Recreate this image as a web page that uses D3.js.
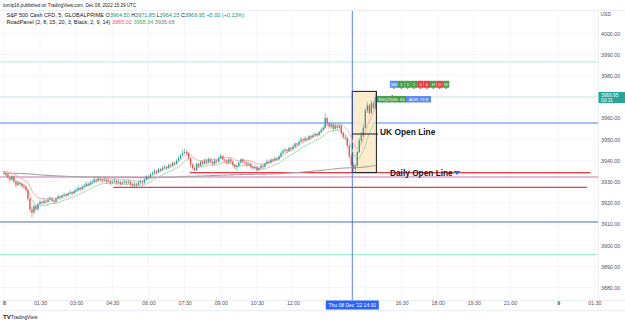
<!DOCTYPE html>
<html>
<head>
<meta charset="utf-8">
<title>S&amp;P 500 Cash CFD, 5</title>
<script src="https://cdn.jsdelivr.net/npm/d3@7"></script>
<style>
  body { margin: 0; background: #fff; }
  svg { display: block; font-family: "Liberation Sans", Arial, sans-serif; }
</style>
</head>
<body>
<div id="chart"></div>
<script>
// 5 minute bars, Dec 08 2022 from 00:00 UTC (bar i starts at minute 5*i)
var opens = [3934.5,3934,3933.5,3932,3931,3932.5,3930,3928.5,3929.5,3929,
  3928,3927.5,3926,3922,3917,3915.5,3918.5,3917,3919.5,3920.5,
  3920,3921,3920.5,3921.5,3922,3921,3920.5,3922,3923,3922.5,
  3923.5,3924,3923.5,3924.5,3925,3924.5,3925.5,3926,3927,3926.5,
  3927.5,3928,3929,3928.5,3929.5,3930,3931,3930.5,3931.5,3931,
  3930.5,3931,3930,3930.5,3929.5,3930,3930.5,3929.5,3930,3929,
  3929.5,3930,3929.5,3930,3929,3928.5,3929,3928.5,3929.5,3930,
  3929.5,3931,3932.5,3932,3933.5,3934,3935,3934.5,3936,3935.5,
  3936.5,3937,3936.5,3938,3937.5,3939,3938.5,3940,3941,3942.5,
  3943.5,3944,3943.5,3941,3938,3936.5,3935.5,3938.5,3937.5,3939.5,
  3938.5,3940,3939,3940.5,3939.5,3938.5,3940,3939.5,3941,3942,
  3940.5,3940,3939,3940.5,3939.5,3938,3937,3937.5,3939,3940.5,
  3939.5,3939,3938,3938.5,3937,3936.5,3937,3935.5,3936.5,3937.5,
  3937,3938.5,3939.5,3939,3940.5,3940,3941,3940.5,3942,3943.5,
  3944.5,3945,3944.5,3946,3945.5,3946.5,3948,3947.5,3949,3950,
  3949.5,3950.5,3950,3951.5,3951,3952,3952.5,3952,3953.5,3954.5,
  3955.5,3960,3957.5,3956,3957,3955,3956.5,3955.5,3956.5,3953,
  3951,3950.5,3947,3942,3938,3936,3937.5,3944,3949.5,3952,
  3955.5,3963.5,3966,3962.5,3967,3964.5];
var highs = [3935,3934.5,3934,3932.5,3933,3933,3930.5,3930.5,3930,3929.5,
  3929,3928,3926.5,3922.5,3918,3919.5,3919,3920,3921.5,3921,
  3922,3921.5,3922.5,3923,3922.5,3921.5,3922.5,3924,3923.5,3924,
  3925,3924.5,3925,3926,3925.5,3926.5,3927,3928,3927.5,3928.5,
  3929,3930,3929.5,3930.5,3931,3932,3931.5,3932.5,3932,3931.5,
  3932,3931.5,3931.5,3931,3931,3931.5,3931,3931,3930.5,3930.5,
  3931,3930.5,3931,3930.5,3929.5,3930,3929.5,3930.5,3931,3930.5,
  3931.5,3933,3933,3934,3935,3936,3935.5,3936.5,3936.5,3937.5,
  3938,3937.5,3938.5,3938.5,3939.5,3939.5,3940.5,3942,3943,3945,
  3945.5,3945,3944,3941.5,3938.5,3937,3939,3939,3940,3940,
  3941,3940.5,3941.5,3941,3940,3941,3940.5,3942,3943,3942.5,
  3941,3940.5,3941.5,3941,3940,3938.5,3938,3939.5,3941,3941,
  3940,3939.5,3939.5,3939,3937.5,3938,3937.5,3937,3938,3938.5,
  3939,3940.5,3940,3941,3941,3942,3941.5,3942.5,3944,3945.5,
  3946,3945.5,3946.5,3946.5,3947.5,3948.5,3948.5,3949.5,3951,3950.5,
  3951.5,3951,3952,3952,3953,3953.5,3953,3954,3955.5,3956.5,
  3962.5,3960.5,3958,3958,3957.5,3957.5,3957,3957.5,3957,3953.5,
  3952,3951,3947.5,3943,3939,3938.5,3944.5,3950.5,3953.5,3957,
  3964.5,3967.5,3966.5,3968.5,3968,3971.85];
var lows = [3933.5,3932.5,3931.5,3930,3930.5,3929.5,3927.5,3928,3928,3927,
  3926.5,3925,3921,3915.5,3913,3914.5,3916,3916.5,3919,3919,
  3919.5,3919.5,3920,3921,3920.5,3919.5,3920,3921.5,3921.5,3922,
  3923,3922.5,3923,3924,3923.5,3924,3925,3925.5,3925.5,3926,
  3927,3927.5,3927.5,3928,3929,3929.5,3929.5,3930,3930,3929.5,
  3930,3929,3929.5,3928.5,3929,3929.5,3928.5,3929,3928,3928.5,
  3929,3928.5,3929,3928,3927.5,3927.5,3927.5,3928,3929,3928.5,
  3929,3930.5,3931,3931.5,3933,3933.5,3933.5,3934,3934.5,3935,
  3936,3935.5,3936,3936.5,3937,3937.5,3938,3939.5,3940.5,3942,
  3943,3942.5,3940.5,3937,3935.5,3934.5,3935,3936.5,3937,3937.5,
  3938,3938,3938.5,3938.5,3937.5,3938,3938.5,3939,3940.5,3940,
  3939,3938,3938.5,3938.5,3937,3936,3935,3937,3938.5,3938.5,
  3938,3937,3937.5,3936,3935.5,3935.5,3934.5,3935,3936,3936,
  3936.5,3938,3938,3938.5,3939,3939.5,3939.5,3940,3941.5,3943,
  3944,3943.5,3944,3944.5,3945,3946,3946.5,3947,3948.5,3948.5,
  3949,3949,3949.5,3950,3950.5,3951.5,3951,3951.5,3953,3954,
  3955,3956.5,3955,3955,3954,3954.5,3954.5,3955,3952,3950,
  3949.5,3946,3941,3937,3934.5,3934.3,3937,3943.5,3948.5,3951,
  3955,3962.5,3961.5,3962,3964,3964.25];
var closes = [3934,3933.5,3932,3931,3932.5,3930,3928.5,3929.5,3929,3928,
  3927.5,3926,3922,3917,3915.5,3918.5,3917,3919.5,3920.5,3920,
  3921,3920.5,3921.5,3922,3921,3920.5,3922,3923,3922.5,3923.5,
  3924,3923.5,3924.5,3925,3924.5,3925.5,3926,3927,3926.5,3927.5,
  3928,3929,3928.5,3929.5,3930,3931,3930.5,3931.5,3931,3930.5,
  3931,3930,3930.5,3929.5,3930,3930.5,3929.5,3930,3929,3929.5,
  3930,3929.5,3930,3929,3928.5,3929,3928.5,3929.5,3930,3929.5,
  3931,3932.5,3932,3933.5,3934,3935,3934.5,3936,3935.5,3936.5,
  3937,3936.5,3938,3937.5,3939,3938.5,3940,3941,3942.5,3943.5,
  3944,3943.5,3941,3938,3936.5,3935.5,3938.5,3937.5,3939.5,3938.5,
  3940,3939,3940.5,3939.5,3938.5,3940,3939.5,3941,3942,3940.5,
  3940,3939,3940.5,3939.5,3938,3937,3937.5,3939,3940.5,3939.5,
  3939,3938,3938.5,3937,3936.5,3937,3935.5,3936.5,3937.5,3937,
  3938.5,3939.5,3939,3940.5,3940,3941,3940.5,3942,3943.5,3944.5,
  3945,3944.5,3946,3945.5,3946.5,3948,3947.5,3949,3950,3949.5,
  3950.5,3950,3951.5,3951,3952,3952.5,3952,3953.5,3954.5,3955.5,
  3960,3957.5,3956,3957,3955,3956.5,3955.5,3956.5,3953,3951,
  3950.5,3947,3942,3938,3936,3937.5,3944,3949.5,3952,3955.5,
  3963.5,3966,3962.5,3967,3964.95,3969.95];

var priceTicks = [3880, 3890, 3900, 3910, 3920, 3930, 3940, 3950, 3960, 3970, 3980, 3990, 4000];
// trading minutes since Dec 08 00:00 (the 22:00-23:00 break is skipped)
var tickMinutes = [0, 90, 180, 270, 360, 450, 540, 630, 720, 810, 900, 990, 1080, 1170, 1260, 1380, 1470];
var tickLabels = ["8", "01:30", "03:00", "04:30", "06:00", "07:30", "09:00", "10:30", "12:00", "13:30", "15:00", "16:30", "18:00", "19:30", "21:00", "9", "01:30"];
var hiddenTicks = ["13:30", "15:00"];   // covered by the crosshair time label

// drawn horizontal levels
var fullLevels = [3986.5, 3957.7, 3932.2, 3911, 3895.6];
var segLevels = [3934.3, 3927.3];
var segStart = [463, 272];
var segEnd = [1460, 1452];

var studyValues = ["3965.02", "3958.34", "3935.68"];
var signalLabels = ["SM", "1", "5", "1", "3", "6", "H", "D", "W"];
var signalState = ["info", "up", "up", "up", "down", "down", "up", "down", "up"];

var W = 625, H = 323;
var paneR = 598, paneT = 11, paneB = 300;

var svg = d3.select("#chart").append("svg")
    .attr("width", W)
    .attr("height", H);

var x = d3.scaleLinear().domain([0, 1470]).range([3.85, 594.3]);
var y = d3.scaleLinear().domain([3880, 4000]).range([287.7, 33.3]);

function ema(values, n) {
    var k = 2 / (n + 1), out = [], prev;
    values.forEach(function(v, i) {
        prev = i === 0 ? v : prev + k * (v - prev);
        out.push(prev);
    });
    return out;
}

var bars = closes.map(function(c, i) {
    return { t: i * 5, o: opens[i], h: highs[i], l: lows[i], c: c };
});

// header
svg.append("text")
    .attr("x", 3).attr("y", 7)
    .attr("font-size", 4.6).attr("fill", "#131722")
    .text("tumip16 published on TradingView.com, Dec 08, 2022 15:29 UTC");

// frame
svg.append("line").attr("x1", 0).attr("x2", W).attr("y1", paneT - 0.5).attr("y2", paneT - 0.5)
    .attr("stroke", "#e0e3eb").attr("stroke-width", 0.6);
svg.append("line").attr("x1", paneR + 0.5).attr("x2", paneR + 0.5).attr("y1", paneT).attr("y2", 310)
    .attr("stroke", "#e0e3eb").attr("stroke-width", 0.6);
svg.append("line").attr("x1", 0).attr("x2", W).attr("y1", paneB + 0.5).attr("y2", paneB + 0.5)
    .attr("stroke", "#e0e3eb").attr("stroke-width", 0.6);
svg.append("line").attr("x1", 0).attr("x2", W).attr("y1", 310.5).attr("y2", 310.5)
    .attr("stroke", "#e0e3eb").attr("stroke-width", 0.6);

svg.append("clipPath").attr("id", "pane").append("rect")
    .attr("x", 0).attr("y", paneT).attr("width", paneR).attr("height", paneB - paneT);

var pane = svg.append("g").attr("clip-path", "url(#pane)");

// grid
pane.selectAll(".hg").data(priceTicks).enter().append("line")
    .attr("x1", 0).attr("x2", paneR)
    .attr("y1", function(d) { return y(d); }).attr("y2", function(d) { return y(d); })
    .attr("stroke", "#f0f3fa").attr("stroke-width", 0.8);
pane.selectAll(".vg").data(tickMinutes).enter().append("line")
    .attr("x1", function(d) { return x(d); }).attr("x2", function(d) { return x(d); })
    .attr("y1", paneT).attr("y2", paneB)
    .attr("stroke", "#f0f3fa").attr("stroke-width", 0.8);

// levels
var fullColors = ["#b9f3dc", "#7fb0f2", "#d9a3c8", "#4f6fa8", "#a8efd2"];
var fullWidths = [1.4, 1.4, 1.4, 1, 1.4];
pane.selectAll(".lv").data(fullLevels).enter().append("line")
    .attr("x1", 0).attr("x2", paneR)
    .attr("y1", function(d) { return y(d); }).attr("y2", function(d) { return y(d); })
    .attr("stroke", function(d, i) { return fullColors[i]; })
    .attr("stroke-width", function(d, i) { return fullWidths[i]; });

// last price line
pane.append("line")
    .attr("x1", 0).attr("x2", paneR)
    .attr("y1", y(closes[closes.length - 1])).attr("y2", y(closes[closes.length - 1]))
    .attr("stroke", "#bfe3df").attr("stroke-width", 0.8);

pane.selectAll(".sg").data(segLevels).enter().append("line")
    .attr("x1", function(d, i) { return x(segStart[i]); })
    .attr("x2", function(d, i) { return x(segEnd[i]); })
    .attr("y1", function(d) { return y(d); }).attr("y2", function(d) { return y(d); })
    .attr("stroke", "#f23645").attr("stroke-width", 1.4);

// session box and crosshair
var boxT0 = 867.5, boxT1 = 927.5;
pane.append("rect")
    .attr("x", x(boxT0)).attr("y", y(3972.6))
    .attr("width", x(boxT1) - x(boxT0)).attr("height", y(3934.3) - y(3972.6))
    .attr("fill", "#fbe9c4").attr("fill-opacity", 0.85)
    .attr("stroke", "#131722").attr("stroke-width", 1);

pane.append("line")
    .attr("x1", x(870) - 1).attr("x2", x(870) - 1).attr("y1", paneT).attr("y2", paneB)
    .attr("stroke", "#2962ff").attr("stroke-width", 0.8);

// study lines
var line = d3.line()
    .x(function(d, i) { return x(i * 5); })
    .y(function(d) { return y(d); });

pane.append("path").datum(ema(closes, 400)).attr("d", line)
    .attr("fill", "none").attr("stroke", "#a8a3a8").attr("stroke-width", 1.1);
pane.append("path").datum(ema(highs, 8)).attr("d", line)
    .attr("fill", "none").attr("stroke", "#f5a3a3").attr("stroke-width", 0.9);
pane.append("path").datum(ema(lows, 8)).attr("d", line)
    .attr("fill", "none").attr("stroke", "#9fd6a0").attr("stroke-width", 0.9);

// candles
var upC = "#26a69a", dnC = "#ef5350";
var cg = pane.selectAll(".bar").data(bars).enter().append("g");
cg.append("line")
    .attr("x1", function(d) { return x(d.t); }).attr("x2", function(d) { return x(d.t); })
    .attr("y1", function(d) { return y(d.h); }).attr("y2", function(d) { return y(d.l); })
    .attr("stroke", function(d) { return d.c >= d.o ? upC : dnC; })
    .attr("stroke-width", 0.6);
cg.append("rect")
    .attr("x", function(d) { return x(d.t) - 0.65; })
    .attr("width", 1.3)
    .attr("y", function(d) { return y(Math.max(d.o, d.c)); })
    .attr("height", function(d) { return Math.max(0.6, Math.abs(y(d.o) - y(d.c))); })
    .attr("fill", function(d) { return d.c >= d.o ? upC : dnC; });

// UK open line
pane.append("line")
    .attr("x1", x(boxT0)).attr("x2", 378).attr("y1", y(3952.5)).attr("y2", y(3952.5))
    .attr("stroke", "#131722").attr("stroke-width", 1);
pane.append("text")
    .attr("x", 380).attr("y", y(3952.5) + 0.5)
    .attr("font-size", 8.4).attr("font-weight", "bold").attr("fill", "#131722")
    .text("UK Open Line");

// Daily open label
pane.append("text")
    .attr("x", 390).attr("y", y(segLevels[0]) + 3)
    .attr("font-size", 8.3).attr("font-weight", "bold").attr("fill", "#131722")
    .text("Daily Open Line");
pane.append("path")
    .attr("d", "M453.5," + (y(segLevels[0]) - 1.5) + "h7l-3.5,4z")
    .attr("fill", "#2962ff");

// signal panel
var sigColor = { info: "#5b8def", up: "#43a047", down: "#f23645" };
var sx = x(961), sy = y(3977.6);
var sig = pane.append("g");
var cx0 = sx;
signalLabels.forEach(function(lab, i) {
    var w = i === 0 ? 8.2 : 6.4;
    sig.append("rect").attr("x", cx0).attr("y", sy).attr("width", w).attr("height", 7)
        .attr("fill", sigColor[signalState[i]]);
    sig.append("path").attr("d", "M" + (cx0 + w / 2 - 1.2) + "," + (sy + 7) + "h2.4l-1.2,1.4z")
        .attr("fill", sigColor[signalState[i]]);
    sig.append("text").attr("x", cx0 + w / 2).attr("y", sy + 5)
        .attr("text-anchor", "middle").attr("font-size", 4.3).attr("fill", "#fff").text(lab);
    cx0 += w;
});

var rx = x(929), ry = y(3970.4);
sig.append("rect").attr("x", rx).attr("y", ry).attr("width", 30).attr("height", 6.4).attr("fill", "#43a047");
sig.append("path").attr("d", "M" + (rx + 14) + "," + ry + "h2.4l-1.2,-1.4z").attr("fill", "#43a047");
sig.append("text").attr("x", rx + 1.5).attr("y", ry + 4.6).attr("font-size", 4.2).attr("fill", "#fff").text("RSI(29)96: 63");
sig.append("rect").attr("x", rx + 29).attr("y", ry).attr("width", 25).attr("height", 6.4).attr("fill", "#5b8def");
sig.append("text").attr("x", rx + 41.5).attr("y", ry + 4.6).attr("text-anchor", "middle").attr("font-size", 4.2).attr("fill", "#fff").text("ADR: 72.8");

// legend
var last = bars[bars.length - 1];
var teal = "#089981";
var lg1 = svg.append("text").attr("x", 6.5).attr("y", 16.8).attr("font-size", 5.5).attr("fill", "#131722");
lg1.append("tspan").text("S&P 500 Cash CFD, 5, GLOBALPRIME  O");
lg1.append("tspan").attr("fill", teal).text(last.o.toFixed(2));
lg1.append("tspan").text(" H");
lg1.append("tspan").attr("fill", teal).text(last.h.toFixed(2));
lg1.append("tspan").text(" L");
lg1.append("tspan").attr("fill", teal).text(last.l.toFixed(2));
lg1.append("tspan").text(" C");
lg1.append("tspan").attr("fill", teal).text(last.c.toFixed(2) + " +5.00 (+0.13%)");

var lg2 = svg.append("text").attr("x", 6.5).attr("y", 23.5).attr("font-size", 5.5).attr("fill", "#131722");
lg2.append("tspan").text("RoadPanel (2, 8, 15, 20, 3, Black, 2, 9, 14)  ");
lg2.append("tspan").attr("fill", "#f7525f").text(studyValues[0]);
lg2.append("tspan").attr("fill", "#4caf50").text("  " + studyValues[1]);
lg2.append("tspan").attr("fill", "#787b86").text("  " + studyValues[2]);

// price axis
var yAxis = d3.axisRight(y).tickValues(priceTicks.filter(function(d) { return d !== 3970; }))
    .tickFormat(d3.format(".2f")).tickSize(0).tickPadding(0);
var ya = svg.append("g").attr("transform", "translate(601,0)").call(yAxis);
ya.select(".domain").remove();
ya.selectAll("text").attr("font-size", 5.3).attr("fill", "#50535e").attr("font-family", "Liberation Sans, Arial, sans-serif");

svg.append("text").attr("x", 600.5).attr("y", 16).attr("font-size", 5).attr("fill", "#50535e").text("USD");

var pl = y(closes[closes.length - 1]);
svg.append("rect").attr("x", paneR + 0.5).attr("y", pl - 5).attr("width", W - paneR).attr("height", 11)
    .attr("fill", "#26a69a");
svg.append("text").attr("x", 601).attr("y", pl + 0.3).attr("font-size", 4.8).attr("fill", "#fff")
    .text(closes[closes.length - 1].toFixed(2));
svg.append("text").attr("x", 601).attr("y", pl + 5).attr("font-size", 4.8).attr("fill", "#fff").text("00:31");

// time axis
var shown = tickMinutes.filter(function(d, i) { return hiddenTicks.indexOf(tickLabels[i]) < 0; });
var xAxis = d3.axisBottom(x).tickValues(shown)
    .tickFormat(function(d) { return tickLabels[tickMinutes.indexOf(d)]; }).tickSize(0).tickPadding(0);
var xa = svg.append("g").attr("transform", "translate(0,302)").call(xAxis);
xa.select(".domain").remove();
xa.selectAll("text").attr("font-size", 5.3).attr("fill", "#50535e").attr("dy", "0.6em")
    .attr("font-family", "Liberation Sans, Arial, sans-serif")
    .attr("font-weight", function(d) { return tickLabels[tickMinutes.indexOf(d)].length === 1 ? "bold" : null; });

// crosshair time label
var chx = x(870) - 1;
svg.append("rect").attr("x", chx - 26.5).attr("y", 300.5).attr("width", 53).attr("height", 9)
    .attr("fill", "#2962ff");
svg.append("text").attr("x", chx).attr("y", 306.8).attr("text-anchor", "middle")
    .attr("font-size", 5).attr("fill", "#fff").text("Thu 08 Dec '22   14:30");

// footer logo
svg.append("text").attr("x", 3).attr("y", 319).attr("font-size", 6).attr("font-weight", "bold")
    .attr("fill", "#131722").text("TV");
svg.append("text").attr("x", 11).attr("y", 318.6).attr("font-size", 4.8).attr("fill", "#131722")
    .text("TradingView");
</script>
</body>
</html>
